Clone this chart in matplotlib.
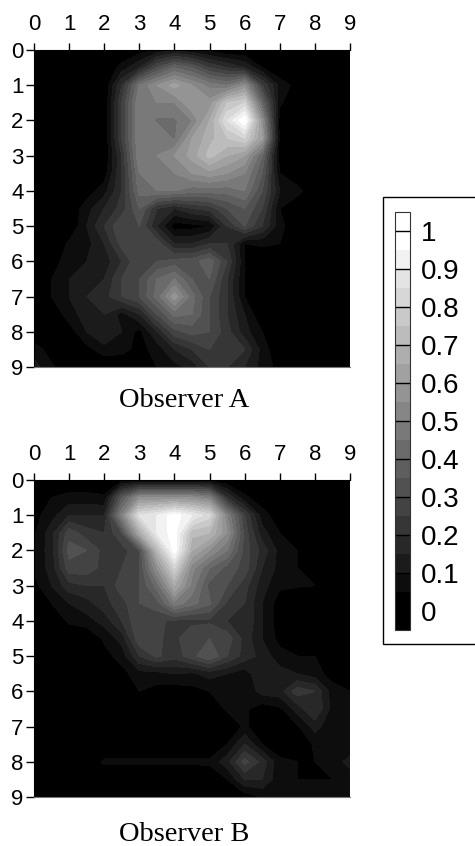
import numpy as np
import matplotlib
matplotlib.use('Agg')
import matplotlib.pyplot as plt
from matplotlib.colors import ListedColormap, BoundaryNorm
from matplotlib.patches import Rectangle

plt.rcParams['font.family'] = ['Liberation Sans', 'DejaVu Sans']

grid_ticks = list(range(10))
grid_pos = [0, .5, 1, 1.5, 2, 2.5, 3, 3.5, 4, 4.5, 5, 5.5, 6, 6.5, 7, 7.5, 8, 8.5, 9]
bar_ticks = [0, 0.1, 0.2, 0.3, 0.4, 0.5, 0.6, 0.7, 0.8, 0.9, 1]
bar_labels = ['0', '0.1', '0.2', '0.3', '0.4', '0.5', '0.6', '0.7', '0.8', '0.9', '1']
levels = [-0.05, 0.05, 0.1, 0.15, 0.2, 0.25, 0.3, 0.35, 0.4, 0.45, 0.5,
          0.55, 0.6, 0.65, 0.7, 0.75, 0.8, 0.85, 0.9, 0.95, 1.05]

# one row per half unit
observer_a = [
    [0, 0, 0, 0, 0, 0, .02, .06, .09, .06, .03, 0, 0, 0, 0, 0, 0, 0, 0],
    [0, 0, 0, 0, 0, .07, .15, .3, .4, .35, .25, .2, .15, .05, 0, 0, 0, 0, 0],
    [0, 0, 0, 0, 0, .2, .45, .55, .62, .55, .48, .45, .55, .25, .08, .03, 0, 0, 0],
    [0, 0, 0, 0, 0, .25, .5, .5, .5, .6, .57, .75, .8, .4, .06, 0, 0, 0, 0],
    [0, 0, 0, 0, 0, .25, .5, .44, .44, .5, .65, .85, 1, .55, .02, 0, 0, 0, 0],
    [0, 0, 0, 0, 0, .25, .5, .5, .44, .6, .68, .75, .8, .6, .03, 0, 0, 0, 0],
    [0, 0, 0, 0, 0, .2, .5, .5, .55, .62, .72, .65, .6, .4, .02, 0, 0, 0, 0],
    [0, 0, 0, 0, .02, .2, .45, .5, .5, .55, .58, .55, .5, .35, .05, 0, 0, 0, 0],
    [0, 0, 0, .02, .08, .2, .42, .45, .45, .42, .42, .42, .45, .3, .1, .07, 0, 0, 0],
    [0, 0, 0, .08, .15, .22, .35, .2, .15, .2, .22, .3, .35, .25, .05, 0, 0, 0, 0],
    [0, 0, 0, .1, .2, .3, .3, .15, .02, .03, .05, .2, .3, .2, .07, 0, 0, 0, 0],
    [0, 0, .06, .08, .15, .27, .3, .28, .15, .15, .2, .2, .05, .06, .05, 0, 0, 0, 0],
    [0, 0, .1, .1, .12, .2, .3, .3, .32, .33, .38, .25, .05, 0, 0, 0, 0, 0, 0],
    [0, .05, .1, .15, .15, .25, .3, .4, .45, .35, .35, .2, .05, 0, 0, 0, 0, 0, 0],
    [0, .05, .1, .15, .18, .25, .3, .42, .58, .42, .3, .2, .05, 0, 0, 0, 0, 0, 0],
    [0, 0, .08, .12, .15, .08, .15, .3, .42, .4, .3, .2, .1, 0, 0, 0, 0, 0, 0],
    [0, 0, .02, .1, .15, .1, .03, .15, .28, .32, .3, .22, .12, .05, 0, 0, 0, 0, 0],
    [.08, .02, 0, .03, .08, .07, .03, .07, .15, .2, .25, .22, .2, .08, 0, 0, 0, 0, 0],
    [.12, .06, 0, 0, 0, 0, 0, .05, .08, .12, .2, .2, .15, .08, .03, 0, 0, 0, 0],
]
observer_b = [
    [0, 0, 0, 0, 0, .03, .03, .03, .03, .03, .03, 0, 0, 0, 0, 0, 0, 0, 0],
    [0, .05, .07, .07, .06, .35, .55, .55, .55, .55, .5, .2, .06, .02, 0, 0, 0, 0, 0],
    [.03, .08, .15, .15, .15, .5, .85, .9, .98, .9, .82, .5, .25, .07, .02, 0, 0, 0, 0],
    [.04, .13, .28, .22, .2, .3, .65, .9, .98, .72, .7, .55, .28, .12, .05, 0, 0, 0, 0],
    [.05, .13, .32, .3, .23, .22, .3, .7, .98, .65, .55, .45, .28, .18, .08, .05, 0, 0, 0],
    [.06, .12, .28, .28, .23, .25, .3, .55, .8, .52, .4, .33, .28, .15, .08, .05, .02, 0, 0],
    [.03, .1, .18, .2, .2, .28, .3, .42, .65, .48, .33, .3, .22, .12, .06, .055, .05, 0, 0],
    [0, .05, .1, .13, .18, .23, .3, .33, .48, .42, .36, .24, .2, .1, .02, 0, 0, 0, 0],
    [0, 0, .06, .08, .12, .2, .3, .26, .24, .23, .24, .2, .2, .1, .02, 0, 0, 0, 0],
    [0, 0, 0, 0, .06, .12, .29, .26, .23, .3, .3, .28, .18, .1, .03, 0, 0, 0, 0],
    [0, 0, 0, 0, .03, .07, .2, .26, .22, .28, .35, .25, .18, .13, .07, .05, .05, 0, 0],
    [0, 0, 0, 0, 0, .03, .08, .08, .1, .09, .12, .1, .07, .15, .12, .1, .07, .03, 0],
    [0, 0, 0, 0, 0, 0, .05, .03, .02, .03, .05, .06, .06, .12, .13, .23, .2, .07, .05],
    [0, 0, 0, 0, 0, 0, 0, 0, 0, 0, 0, .06, .06, .02, .04, .12, .2, .08, .06],
    [0, 0, 0, 0, 0, 0, 0, 0, 0, 0, 0, 0, .06, .01, 0, .04, .12, .06, .05],
    [0, 0, 0, 0, 0, 0, 0, 0, 0, 0, 0, .05, .15, .05, .02, 0, .06, .1, .06],
    [0, 0, 0, 0, .06, .06, .06, .06, .06, .06, .06, .13, .27, .18, .06, .05, .05, .07, .12],
    [0, 0, 0, 0, 0, 0, 0, 0, 0, 0, .01, .05, .15, .15, .06, .05, .05, .05, .07],
    [0, 0, 0, 0, 0, 0, 0, 0, 0, 0, 0, 0, .02, .05, .05, .06, .08, .06, .06],
]

W, H = 475, 846
n_bands = len(levels) - 1
cmap = ListedColormap([str(i / (n_bands - 1)) for i in range(n_bands)])
norm = BoundaryNorm(levels, cmap.N)


def px_axes(fig, left, top, right, bottom):
    return fig.add_axes([left / W, 1 - bottom / H, (right - left) / W, (bottom - top) / H])


def contour_panel(fig, box, values, title, title_y):
    ax = px_axes(fig, *box)
    cs = ax.contourf(grid_pos, grid_pos, np.array(values), levels=levels, cmap=cmap, norm=norm)
    ax.set_xlim(0, 9)
    ax.set_ylim(9, 0)
    ax.set_xticks(grid_ticks)
    ax.set_yticks(grid_ticks)
    ax.xaxis.tick_top()
    ax.tick_params(axis='x', length=5, width=1, pad=6, labelsize=16)
    ax.tick_params(axis='y', length=5.5, width=1, pad=2, labelsize=16)
    ax.spines['right'].set_visible(False)
    ax.spines['bottom'].set_color('#777777')
    fig.text(184 / W, 1 - title_y / H, title, family='Liberation Serif', fontsize=20.5,
             ha='center', va='center')
    return cs


fig = plt.figure(figsize=(W / 100, H / 100), dpi=100)
cs_a = contour_panel(fig, (34, 50, 350, 367), observer_a, 'Observer A', 400)
contour_panel(fig, (34, 480, 350, 797), observer_b, 'Observer B', 834)

fig.add_artist(Rectangle((383 / W, 1 - 644 / H), 120 / W, 447 / H, transform=fig.transFigure,
                         facecolor='white', edgecolor='black', linewidth=1, zorder=-1))
cax = px_axes(fig, 395, 212, 410, 630)
cax.set_zorder(2)
cbar = fig.colorbar(cs_a, cax=cax, ticks=bar_ticks, spacing='proportional', drawedges=False)
cbar.ax.minorticks_off()
cbar.ax.set_yticklabels(bar_labels)
cbar.ax.tick_params(direction='in', length=11, width=1, pad=8, labelsize=20, right=True, color='black')
cbar.outline.set_edgecolor('#333333')

fig.savefig('out.png', dpi=100)
